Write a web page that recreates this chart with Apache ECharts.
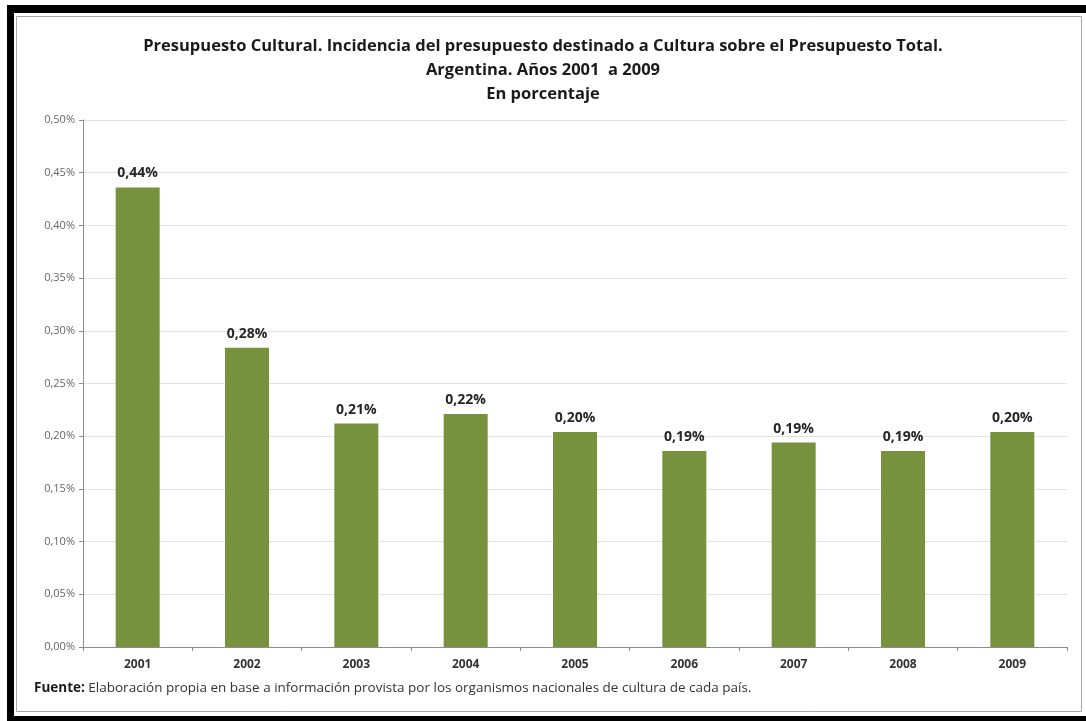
<!DOCTYPE html>
<html>
<head>
<meta charset="utf-8">
<title>Presupuesto Cultural Argentina</title>
<script src="https://cdn.jsdelivr.net/npm/echarts@6/dist/echarts.min.js"></script>
<style>
html, body { margin: 0; padding: 0; background: #fff; }
#main { width: 1086px; height: 721px; }
</style>
</head>
<body>
<div id="main"></div>
<script>
// datos
var anios = ['2001', '2002', '2003', '2004', '2005', '2006', '2007', '2008', '2009'];
var porcentajes = [0.436, 0.284, 0.212, 0.221, 0.204, 0.186, 0.194, 0.186, 0.204];
var tituloLineas = [
  'Presupuesto Cultural. Incidencia del presupuesto destinado a Cultura sobre el Presupuesto Total.',
  'Argentina. Años 2001  a 2009',
  'En porcentaje'
];
var fuenteTexto = 'Elaboración propia en base a información provista por los organismos nacionales de cultura de cada país.';

var fmt = function (v) {
  return v.toFixed(2).replace('.', ',') + '%';
};

var myChart = echarts.init(document.getElementById('main'));

var option = {
  backgroundColor: '#fff',
  animation: false,
  textStyle: { fontFamily: '"Open Sans", sans-serif' },
  title: {
    text: tituloLineas.join('\n'),
    left: 'center',
    top: 29,
    textStyle: {
      fontFamily: '"Open Sans", sans-serif',
      fontSize: 16.5,
      fontWeight: 'bold',
      color: '#1a1a1a',
      lineHeight: 24
    }
  },
  grid: {
    left: 83,
    right: 19,
    top: 120,
    bottom: 74
  },
  xAxis: {
    type: 'category',
    data: anios,
    axisLine: { lineStyle: { color: '#8c8c8c', width: 1 } },
    axisTick: { show: true, length: 4, lineStyle: { color: '#8c8c8c' } },
    axisLabel: {
      margin: 12,
      fontSize: 12,
      fontWeight: 'bold',
      color: '#333'
    }
  },
  yAxis: {
    type: 'value',
    min: 0,
    max: 0.5,
    interval: 0.05,
    axisLine: { show: true, lineStyle: { color: '#8c8c8c' } },
    axisTick: { show: true, length: 4, lineStyle: { color: '#8c8c8c' } },
    splitLine: { lineStyle: { color: '#e2e2e2', width: 1 } },
    axisLabel: {
      formatter: fmt,
      fontSize: 11,
      color: '#666',
      margin: 8
    }
  },
  series: [{
    type: 'bar',
    data: porcentajes,
    barWidth: 44,
    itemStyle: { color: '#76923c' },
    label: {
      show: true,
      position: 'top',
      distance: 7,
      formatter: function (p) { return fmt(p.value); },
      fontSize: 14,
      fontWeight: 'bold',
      color: '#262626'
    }
  }],
  graphic: [
    // marco exterior
    { type: 'rect', shape: { x: 7, y: 5, width: 1079, height: 8 }, style: { fill: '#000' }, silent: true },
    { type: 'rect', shape: { x: 7, y: 5, width: 7, height: 716 }, style: { fill: '#000' }, silent: true },
    { type: 'rect', shape: { x: 7, y: 716, width: 1079, height: 5 }, style: { fill: '#000' }, silent: true },
    { type: 'rect', shape: { x: 16.5, y: 16.5, width: 1065, height: 695 }, style: { fill: 'none', stroke: '#a6a6a6', lineWidth: 1 }, silent: true },
    {
      type: 'text',
      left: 34,
      top: 681,
      style: {
        text: '{b|Fuente:} ' + fuenteTexto,
        rich: {
          b: { fontWeight: 'bold', fontSize: 13.5, fill: '#1a1a1a', fontFamily: '"Open Sans", sans-serif' }
        },
        fontSize: 13.5,
        fill: '#333',
        fontFamily: '"Open Sans", sans-serif'
      }
    }
  ]
};

myChart.setOption(option);
window.onresize = function () {
  myChart.resize();
};
</script>
</body>
</html>
